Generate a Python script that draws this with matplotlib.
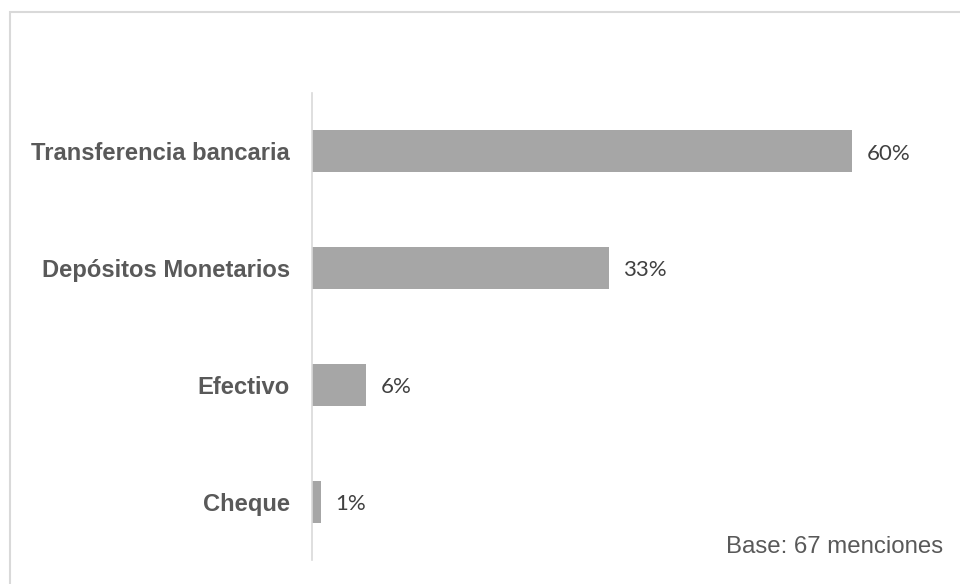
import matplotlib.pyplot as plt
from matplotlib.patches import Rectangle

categorias = ['Transferencia bancaria', 'Depósitos Monetarios', 'Efectivo', 'Cheque']
valores = [60, 33, 6, 1]
etiquetas = ['60%', '33%', '6%', '1%']
nota = 'Base: 67 menciones'

fig = plt.figure(figsize=(9.6, 5.84), dpi=100)

# light frame around the whole chart
fig.patches.append(Rectangle((10 / 960, -0.05), 1.2, (584 - 12) / 584 + 0.05,
                             transform=fig.transFigure, fill=False,
                             edgecolor='#D9D9D9', linewidth=1.5))

ax = fig.add_axes([312 / 960, 24 / 584, 630 / 960, 467 / 584])
pos = list(range(len(categorias)))
ax.barh(pos, valores, height=0.36, color='#A6A6A6')
ax.set_ylim(len(categorias) - 0.5, -0.5)
ax.set_xlim(0, 70)

for spine in ['top', 'right', 'bottom']:
    ax.spines[spine].set_visible(False)
ax.spines['left'].set_color('#D9D9D9')
ax.spines['left'].set_linewidth(1.2)
ax.set_xticks([])
ax.set_yticks(pos)
ax.set_yticklabels(categorias, fontsize=17.1, fontweight='bold',
                   color='#595959', family='Liberation Sans')
ax.tick_params(axis='y', length=0, pad=16)

for p, v, t in zip(pos, valores, etiquetas):
    ax.text(v + 1.6, p + 0.02, t, va='center', ha='left', fontsize=16,
            color='#404040', family='Lato')

fig.text(943 / 960, 1 - 547 / 584, nota, ha='right', va='center',
         fontsize=17.3, color='#595959', family='Liberation Sans')

fig.savefig('out.png', dpi=100)
